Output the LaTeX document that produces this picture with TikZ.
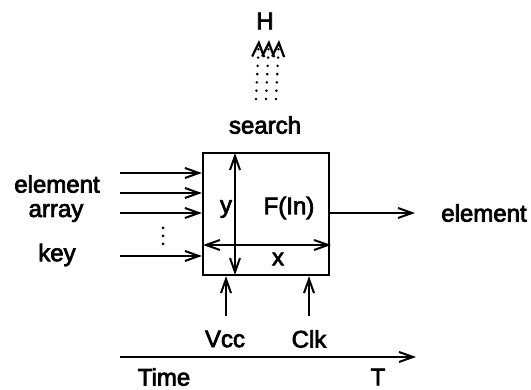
\documentclass[tikz,border=0pt]{standalone}
\usepackage{fontspec}
\setmainfont{Liberation Sans}
\newfontfamily\hv{Liberation Sans}[FakeBold=3]
\usetikzlibrary{arrows.meta}
\begin{document}
\begin{tikzpicture}[x=1pt,y=-1pt,
  lbl/.style={inner sep=0pt,font=\hv\fontsize{24}{28}\selectfont},
  ln/.style={line width=2pt},
  tip/.tip={Straight Barb[length=14pt,width=10pt,line width=2pt]},
  arr/.style={ln,-tip},
  darr/.style={ln,tip-tip},
  hatch/.style={line width=2.8pt,line cap=round,dash pattern=on 0pt off 8.3pt,
    -{Straight Barb[length=14pt,width=12pt,line width=2.2pt]}},
  dotc/.style={fill,circle,inner sep=0pt,minimum size=3pt}]
\useasboundingbox (0,0) rectangle (531,390);
% box
\node[draw,line width=2.2pt,minimum width=126pt,minimum height=122pt,inner sep=0pt] (box) at (266,214) {};
% internal arrows
\coordinate (vt) at (235,153);
\coordinate (vb) at (235,275);
\coordinate (hl) at (203,245);
\coordinate (hr) at (331,245);
\draw[darr] (vt) -- (vb);
\draw[darr] (hl) -- (hr);
\node[lbl] (ylab) at (226,209) {y};
\node[lbl] (flab) at (289,208) {F(In)};
\node[lbl] (xlab) at (278,259) {x};
% inputs
\coordinate (i1) at (120,173);
\coordinate (i2) at (120,193);
\coordinate (i3) at (120,213);
\coordinate (i4) at (120,256);
\draw[arr] (i1) -- (i1 -| box.west);
\draw[arr] (i2) -- (i2 -| box.west);
\draw[arr] (i3) -- (i3 -| box.west);
\draw[arr] (i4) -- (i4 -| box.west);
\node[dotc] (d1) at (163,228) {};
\node[dotc] (d2) at (163,236) {};
\node[dotc] (d3) at (163,244) {};
\node[lbl] (el1) at (57,184) {element};
\node[lbl] (arr) at (56,213) {array};
\node[lbl] (key) at (57,255) {key};
% output
\coordinate (o1) at (415,213);
\draw[arr] (box.east |- o1) -- (o1);
\node[lbl] (el2) at (484,213) {element};
% bottom inputs
\coordinate (vcc) at (226,316);
\coordinate (clk) at (309,316);
\draw[arr] (vcc) -- (vcc |- box.south);
\draw[arr] (clk) -- (clk |- box.south);
\node[lbl] (vl) at (225,339) {Vcc};
\node[lbl] (cl) at (309,339) {Clk};
% time axis
\coordinate (t0) at (120,357);
\coordinate (t1) at (416,357);
\draw[arr] (t0) -- (t1);
\node[lbl] (tl) at (164,377) {Time};
\node[lbl] (tt) at (378,377) {T};
% top
\node[lbl] (h) at (265,21) {H};
\node[lbl] (s) at (265,125) {search};
\coordinate (a1s) at (256,99);
\coordinate (a1e) at (259,40);
\coordinate (a2s) at (266,99);
\coordinate (a2e) at (269,40);
\coordinate (a3s) at (276,99);
\coordinate (a3e) at (279,40);
\draw[hatch] (a1s) -- (a1e);
\draw[hatch] (a2s) -- (a2e);
\draw[hatch] (a3s) -- (a3e);
\end{tikzpicture}
\end{document}
